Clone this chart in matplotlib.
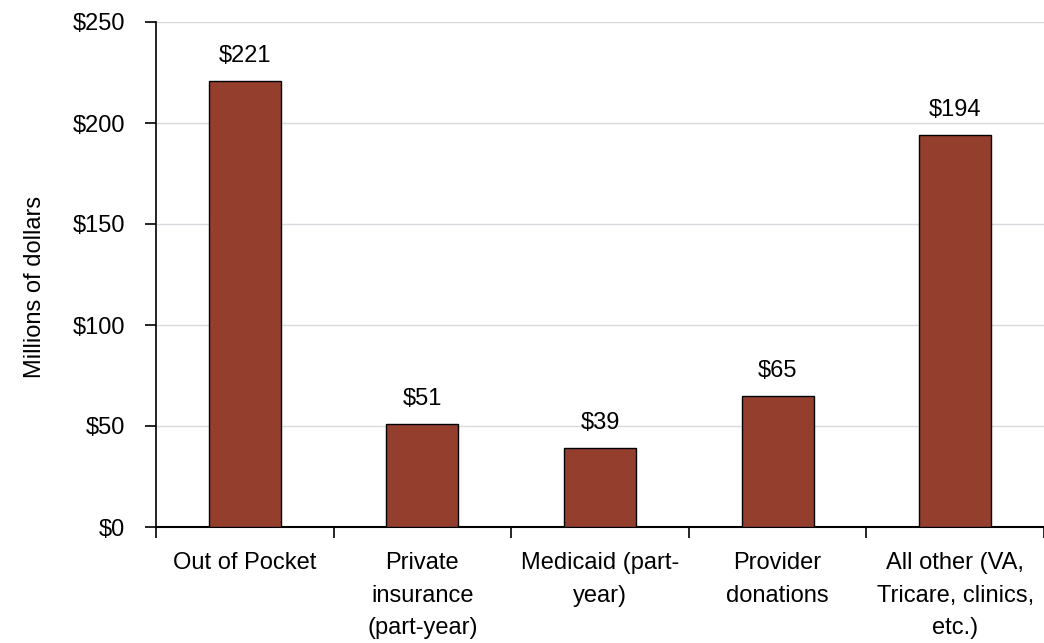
import numpy as np
import matplotlib.pyplot as plt

plt.rcParams['font.family'] = ['Liberation Sans', 'DejaVu Sans']

# categorias y valores (millones de dolares)
categorias = ["Out of Pocket", "Private\ninsurance\n(part-year)", "Medicaid (part-\nyear)",
              "Provider\ndonations", "All other (VA,\nTricare, clinics,\netc.)"]
valores = [221, 51, 39, 65, 194]
etiquetas = ["$221", "$51", "$39", "$65", "$194"]
yticks = [0, 50, 100, 150, 200, 250]
ytick_labels = ["$0", "$50", "$100", "$150", "$200", "$250"]

fs = 17

fig = plt.figure(figsize=(10.44, 6.43), dpi=100)
ax = fig.add_axes([156/1044, 116/643, 888/1044, 505/643])

x = np.arange(len(valores))
ax.bar(x, valores, width=0.405, color="#943F2D", edgecolor="black", linewidth=1, zorder=3)

for xi, v, t in zip(x, valores, etiquetas):
    ax.annotate(t, (xi, v), xytext=(0, 10), textcoords="offset points",
                ha="center", va="bottom", fontsize=fs)

ax.set_xlim(-0.495, 4.468)
ax.set_ylim(0, 250)
ax.set_yticks(yticks)
ax.set_yticklabels(ytick_labels, fontsize=fs)
ax.yaxis.grid(True, color="#D9D9E0", linewidth=1, zorder=0)

# ticks entre categorias, etiquetas centradas
ax.set_xticks(np.arange(-0.5, len(valores), 1.0))
ax.set_xticklabels([])
ax.set_xticks(x, minor=True)
ax.set_xticklabels(categorias, minor=True, fontsize=fs, linespacing=1.62)
ax.tick_params(axis="x", which="minor", length=0, pad=18)
ax.tick_params(axis="x", which="major", length=8, width=1.2, direction="out")
ax.tick_params(axis="y", length=8, width=1.2, pad=14)

for s in ["top", "right"]:
    ax.spines[s].set_visible(False)
ax.spines["left"].set_linewidth(1.2)
ax.spines["bottom"].set_linewidth(1.5)

ax.set_ylabel("Millions of dollars", fontsize=fs)
ax.yaxis.set_label_coords(-0.124, 0.475)

plt.savefig("out.png", dpi=100)
